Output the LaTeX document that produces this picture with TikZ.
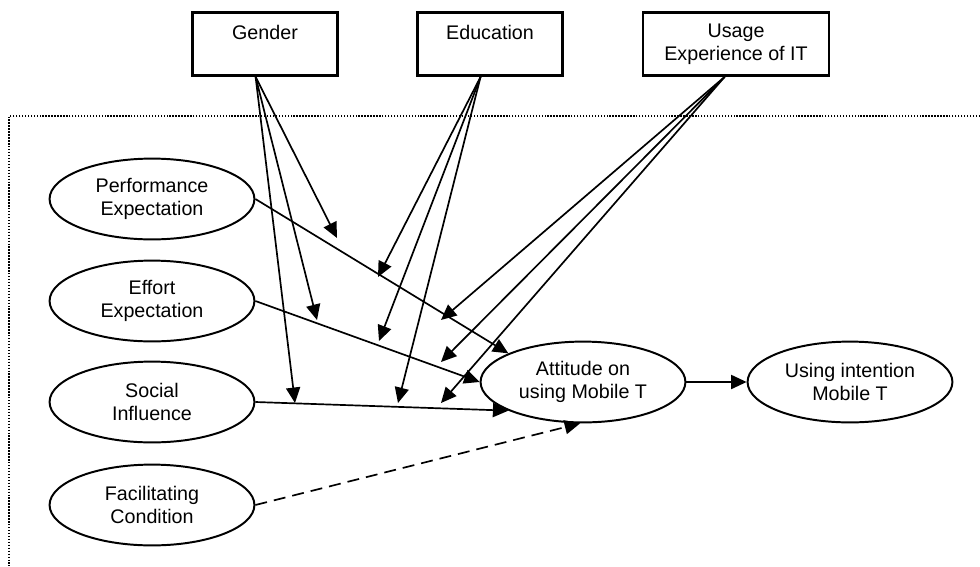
\documentclass[tikz,border=0pt]{standalone}
\usepackage{fontspec}
\setmainfont{Liberation Sans}
\usetikzlibrary{arrows.meta,shapes.geometric}
\begin{document}
\begin{tikzpicture}[x=0.025cm,y=-0.025cm,font=\fontsize{14}{16.2}\selectfont,
                    >={Triangle[length=11pt,width=10pt]}]
                \useasboundingbox (0,0) rectangle (980,566);
                % dotted frame, running off the page
                \draw[line width=0.9pt, dash pattern=on 1pt off 1.1pt] (980,116) -- (9,116) -- (9,566);

                \begin{scope}[every node/.style={rectangle,draw,line width=1.7pt,align=center,minimum height=1.58cm}]
                    \node[minimum width=3.63cm] (G) at (265,44) {Gender\\ ~};
                    \node[minimum width=3.63cm] (E) at (490,44) {Education\\ ~};
                    \node[minimum width=4.65cm] (U) at (736,44) {Usage\\Experience of IT};
                \end{scope}

                \begin{scope}[every node/.style={ellipse,draw,line width=1.4pt,align=center,
                            inner sep=0pt,minimum width=5.12cm,minimum height=2.02cm}]
                    \node (PE) at (152,199) {Performance\\Expectation};
                    \node (EE) at (152,301) {Effort\\Expectation};
                    \node (SI) at (152,402) {Social\\Influence};
                    \node (FC) at (152,505) {Facilitating\\Condition};
                    \node (AT) at (583,382) {Attitude on\\using Mobile T};
                    \node (UI) at (850,382) {Using intention\\Mobile T};
                \end{scope}

                % tips of the moderating arrows
                \coordinate (g1) at (337,238);
                \coordinate (g2) at (317,320);
                \coordinate (g3) at (295,403);
                \coordinate (e1) at (378,277);
                \coordinate (e2) at (379,341);
                \coordinate (e3) at (398,403);
                \coordinate (u1) at (441,320);
                \coordinate (u2) at (441,362);
                \coordinate (u3) at (441,403);

                \begin{scope}[every edge/.style={draw,line width=1.2pt}]
                    \path [->] (G.-106) edge (g1);
                    \path [->] (G.-106) edge (g2);
                    \path [->] (G.-106) edge (g3);
                    \path [->] (E.-106) edge (e1);
                    \path [->] (E.-106) edge (e2);
                    \path [->] (E.-106) edge (e3);
                    \path [->] (U.-109) edge (u1);
                    \path [->] (U.-109) edge (u2);
                    \path [->] (U.-109) edge (u3);
                    \path [->] (PE.east) edge (AT.159);
                    \path [->] (EE.east) edge (AT.west);
                    \path [->] (SI.east) edge (AT.201);
                    \path [->] (FC.east) edge[dash pattern=on 8.5pt off 5pt] (AT.266);
                    \path [->] (AT) edge (UI);
                \end{scope}
            \end{tikzpicture}
\end{document}
